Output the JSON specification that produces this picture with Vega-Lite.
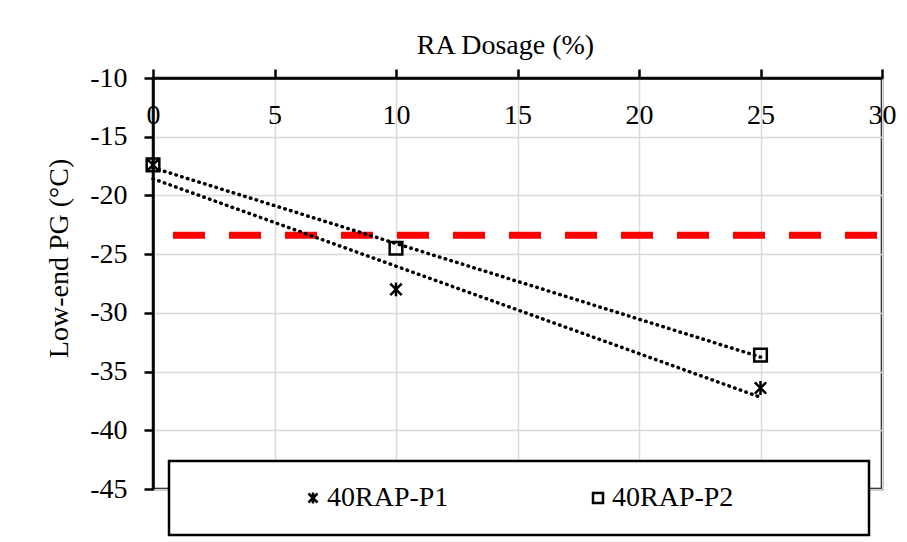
{
  "$schema": "https://vega.github.io/schema/vega-lite/v6.json",
  "width": 729,
  "height": 411,
  "autosize": {"type": "none"},
  "padding": {"left": 153, "top": 78, "right": 25, "bottom": 53},
  "background": "white",
  "config": {
    "font": "Liberation Serif",
    "view": {"stroke": "black", "strokeWidth": 2.5},
    "axis": {
      "labelFont": "Liberation Serif",
      "labelFontSize": 28,
      "labelColor": "black",
      "titleFont": "Liberation Serif",
      "titleFontSize": 28,
      "titleFontWeight": "normal",
      "titleColor": "black",
      "domainColor": "black",
      "domainWidth": 2.5,
      "tickColor": "black",
      "tickWidth": 2.5,
      "tickSize": 9,
      "gridColor": "#d9d9d9",
      "gridWidth": 1.5
    },
    "legend": {"strokeWidth": 2.5}
  },
  "datasets": {
    "pts": [
      {"series": "40RAP-P1", "dosage": 0, "pg": -17.4},
      {"series": "40RAP-P1", "dosage": 10, "pg": -28.0},
      {"series": "40RAP-P1", "dosage": 25, "pg": -36.4},
      {"series": "40RAP-P2", "dosage": 0, "pg": -17.4},
      {"series": "40RAP-P2", "dosage": 10, "pg": -24.5},
      {"series": "40RAP-P2", "dosage": 25, "pg": -33.6}
    ],
    "limit": [{"pg": -23.4}]
  },
  "encoding": {
    "y": {
      "field": "pg",
      "type": "quantitative",
      "scale": {"domain": [-45, -10], "nice": false, "zero": false},
      "axis": {
        "title": "Low-end PG (°C)",
        "values": [-45, -40, -35, -30, -25, -20, -15, -10],
        "labelExpr": "toString(datum.value)",
        "labelPadding": 17,
        "labelAlign": "right",
        "labelBaseline": "middle",
        "labelOverlap": false,
        "labelFlush": false,
        "titleAngle": -90,
        "titleX": -86,
        "titleY": 180,
        "titleAlign": "center",
        "titleBaseline": "alphabetic"
      }
    }
  },
  "layer": [
    {
      "data": {"name": "limit"},
      "mark": {"type": "rule", "color": "#ff0000", "strokeWidth": 7, "strokeDash": [32, 24], "strokeDashOffset": 51},
      "encoding": {}
    },
    {
      "data": {"name": "pts"},
      "transform": [
        {"regression": "pg", "on": "dosage", "groupby": ["series"], "extent": [0, 25]}
      ],
      "mark": {"type": "line", "color": "black", "strokeWidth": 3.5, "strokeDash": [0.5, 5.5], "strokeCap": "round"},
      "encoding": {
        "x": {
          "field": "dosage",
          "type": "quantitative",
          "scale": {"domain": [0, 30], "nice": false},
          "axis": {
            "orient": "top",
            "title": "RA Dosage (%)",
            "values": [0, 5, 10, 15, 20, 25, 30],
            "labelPadding": -54,
            "labelBaseline": "alphabetic",
            "labelFlush": false,
            "labelOverlap": false,
            "labelBound": false,
            "titleX": 352,
            "titleY": -25,
            "titleAlign": "center",
            "titleBaseline": "alphabetic"
          }
        },
        "detail": {"field": "series"}
      }
    },
    {
      "data": {"name": "pts"},
      "mark": {"type": "point", "filled": false, "color": "black", "strokeWidth": 2.5, "size": 160, "opacity": 1},
      "encoding": {
        "x": {
          "field": "dosage",
          "type": "quantitative",
          "scale": {"domain": [0, 30], "nice": false},
          "axis": {
            "orient": "top",
            "title": "RA Dosage (%)",
            "values": [0, 5, 10, 15, 20, 25, 30],
            "labelPadding": -54,
            "labelBaseline": "alphabetic",
            "labelFlush": false,
            "labelOverlap": false,
            "labelBound": false,
            "titleX": 352,
            "titleY": -25,
            "titleAlign": "center",
            "titleBaseline": "alphabetic"
          }
        },
        "shape": {
          "field": "series",
          "type": "nominal",
          "scale": {
            "domain": ["40RAP-P1", "40RAP-P2"],
            "range": ["M-0.9,-0.9L0.9,0.9M-0.9,0.9L0.9,-0.9M0,-1.1L0,1.1", "square"]
          },
          "legend": {
            "orient": "none",
            "legendX": 16,
            "legendY": 383,
            "direction": "horizontal",
            "title": " ",
            "titleOrient": "left",
            "titleFont": "Liberation Serif",
            "titleFontSize": 28,
            "titlePadding": 107,
            "padding": 23,
            "fillColor": "white",
            "strokeColor": "black",
            "symbolSize": 100,
            "symbolStrokeWidth": 2.5,
            "symbolStrokeColor": "black",
            "symbolFillColor": "transparent",
            "symbolOpacity": 1,
            "labelFont": "Liberation Serif",
            "labelFontSize": 28,
            "labelColor": "black",
            "labelOffset": 0,
            "labelLimit": 1000,
            "columnPadding": 135,
            "labelExpr": "datum.label == '40RAP-P2' ? datum.label + '\u00a0\u00a0\u00a0\u00a0\u00a0\u00a0\u00a0\u00a0\u00a0\u00a0\u00a0\u00a0\u00a0\u00a0\u00a0\u00a0\u200b' : datum.label"
          }
        }
      }
    }
  ]
}
